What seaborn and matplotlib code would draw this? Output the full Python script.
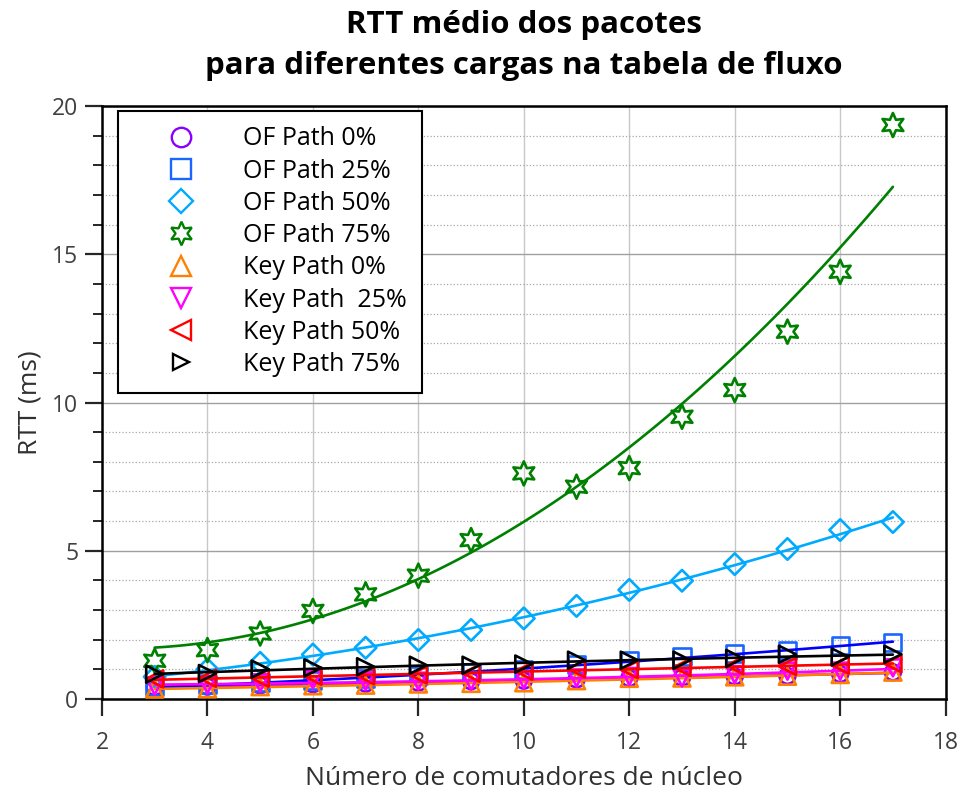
import matplotlib
matplotlib.use("Agg")
import matplotlib.pyplot as plt
from matplotlib.lines import Line2D
from matplotlib.ticker import MultipleLocator
import pandas as pd
import seaborn as sns

# Número de comutadores de núcleo
switches = [3, 4, 5, 6, 7, 8, 9, 10, 11, 12, 13, 14, 15, 16, 17]

# RTT médio (ms)
of_path_0 = [0.40, 0.42, 0.46, 0.50, 0.52, 0.55, 0.60, 0.62, 0.66, 0.70, 0.72, 0.76, 0.78, 0.84, 0.90]
of_path_25 = [0.42, 0.48, 0.55, 0.62, 0.70, 0.80, 0.90, 1.00, 1.15, 1.30, 1.43, 1.52, 1.65, 1.79, 1.90]
of_path_50 = [0.75, 1.00, 1.22, 1.50, 1.73, 1.99, 2.33, 2.72, 3.14, 3.68, 3.99, 4.55, 5.06, 5.70, 5.97]
of_path_75 = [1.29, 1.65, 2.21, 2.97, 3.53, 4.16, 5.36, 7.61, 7.16, 7.79, 9.52, 10.42, 12.39, 14.41, 19.36]
key_path_0 = [0.34, 0.35, 0.42, 0.45, 0.47, 0.51, 0.53, 0.55, 0.62, 0.70, 0.71, 0.75, 0.77, 0.83, 0.91]
key_path_25 = [0.43, 0.48, 0.54, 0.65, 0.60, 0.60, 0.60, 0.65, 0.71, 0.76, 0.71, 0.82, 0.94, 0.94, 1.05]
key_path_50 = [0.68, 0.70, 0.70, 0.77, 0.78, 0.81, 0.87, 0.94, 1.02, 0.99, 1.07, 1.13, 1.10, 1.14, 1.19]
key_path_75 = [0.84, 0.86, 1.01, 1.05, 1.09, 1.14, 1.14, 1.18, 1.31, 1.31, 1.31, 1.37, 1.51, 1.42, 1.51]

labels = ["OF Path 0%", "OF Path 25%", "OF Path 50%", "OF Path 75%",
          "Key Path 0%", "Key Path  25%", "Key Path 50%", "Key Path 75%"]

series = [of_path_0, of_path_25, of_path_50, of_path_75,
          key_path_0, key_path_25, key_path_50, key_path_75]

# estilo de cada série: marcador, cor do marcador, cor da linha, tamanho, tamanho na legenda
styles = [
    ("o", "#8a00ff", "#8a00ff", 130, 14),
    ("s", "#1a66ff", "#0000ff", 150, 14),
    ("D", "#00aaff", "#00aaff", 120, 12),
    ((6, 1, 0), "#008000", "#008000", 300, 17),
    ("^", "#ff8000", "#ff8000", 150, 15),
    ("v", "#ff00ff", "#ff00ff", 150, 15),
    ("<", "#ff0000", "#ff0000", 150, 15),
    (">", "#000000", "#000000", 150, 11),
]

sns.set_style("white")
plt.rcParams["font.family"] = ["Open Sans", "DejaVu Sans"]

fig = plt.figure(figsize=(9.62, 7.93), dpi=100)
ax = fig.add_axes([0.106, 0.1185, 0.877, 0.7478])

handles = []
for values, label, (marker, mcolor, lcolor, size, lsize) in zip(series, labels, styles):
    df = pd.DataFrame({"switches": switches, "rtt": values})
    sns.regplot(
        data=df, x="switches", y="rtt", order=2, ci=None, ax=ax,
        marker=marker, color=lcolor,
        scatter_kws=dict(color=mcolor, facecolors="none", s=size,
                         linewidths=1.9, alpha=1, zorder=3),
        line_kws=dict(color=lcolor, lw=1.9, zorder=3),
    )
    handles.append(Line2D([], [], ls="none", marker=marker, markersize=lsize,
                          markerfacecolor="none", markeredgecolor=mcolor,
                          markeredgewidth=1.7, label=label))

ax.set_xlim(2, 18)
ax.set_ylim(0, 20)
ax.xaxis.set_major_locator(MultipleLocator(2))
ax.yaxis.set_major_locator(MultipleLocator(5))
ax.yaxis.set_minor_locator(MultipleLocator(1))

ax.grid(axis="x", which="major", color="#c8c8c8", lw=1)
ax.grid(axis="y", which="major", color="#a0a0a0", lw=1)
ax.grid(axis="y", which="minor", color="#a8a8a8", lw=0.9, ls=":")
ax.set_axisbelow(True)

for side in ["left", "bottom", "top", "right"]:
    ax.spines[side].set_visible(True)
    ax.spines[side].set_color("black")
    ax.spines[side].set_linewidth(1.8)

ax.tick_params(axis="both", which="major", direction="out", length=12, width=1.6,
               labelsize=16.5, labelcolor="#404040", bottom=True, left=True)
ax.tick_params(axis="x", which="major", pad=11)
ax.tick_params(axis="y", which="major", pad=5)
ax.tick_params(axis="y", which="minor", direction="out", length=6.5, width=1.4, left=True)

ax.set_xlabel("Número de comutadores de núcleo", fontsize=19, color="#303030", labelpad=8)
ax.set_ylabel("RTT (ms)", fontsize=19, color="#303030", labelpad=7)
ax.set_title("RTT médio dos pacotes\npara diferentes cargas na tabela de fluxo",
             fontsize=22.5, fontweight="bold", pad=23, linespacing=1.5, color="black")

leg = ax.legend(handles=handles, loc="upper left", bbox_to_anchor=(0.019, 0.992),
                borderaxespad=0, fontsize=18, frameon=True, fancybox=False,
                handlelength=3.8, handletextpad=0.58, borderpad=0.62, labelspacing=0.29)
leg.get_frame().set_edgecolor("black")
leg.get_frame().set_linewidth(1.5)
leg.get_frame().set_alpha(1)
for text in leg.get_texts():
    text.set_color("black")

fig.savefig("out.png", dpi=100)
